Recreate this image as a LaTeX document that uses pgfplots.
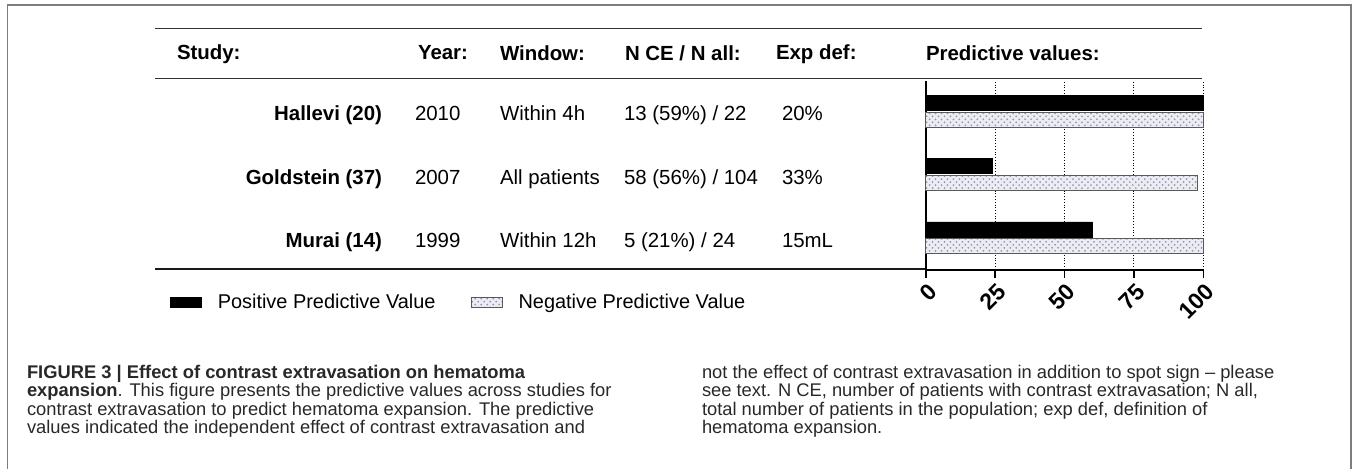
\documentclass[border=0pt]{standalone}
\usepackage{fontspec}
\setmainfont{Liberation Sans}
\usepackage{pgfplots}
\usepackage{pgfplotstable}
\pgfplotsset{compat=1.18}
\usetikzlibrary{patterns}

\definecolor{npvfill}{RGB}{236,236,247}
\definecolor{framegray}{RGB}{125,125,125}
\definecolor{capcol}{RGB}{40,40,40}

\pgfplotstableread{
y ppv npv
3 100 100
2 24 98
1 60 100
}\pvtable

\newcommand{\cf}{\fontsize{10.25}{12}\selectfont}
\newcommand{\capf}{\fontsize{9.2}{11}\selectfont}
\newcommand{\tf}{\fontsize{11.5}{13}\selectfont\bfseries}

\begin{document}
\begin{tikzpicture}
\begin{scope}[x=0.5bp,y=-0.5bp,
  t/.style={inner sep=0pt,outer sep=0pt,font=\cf},
  c/.style={inner sep=0pt,outer sep=0pt,font=\capf,text=capcol,anchor=base west}]
\useasboundingbox (0,0) rectangle (1356,469);
\draw[framegray,line width=0.65bp] (7.5,480) -- (7.5,5) -- (1351,5) -- (1351,480);

% table rules
\draw[black!80,line width=0.65bp] (155,28.3) -- (1201.7,28.3);
\draw[black!80,line width=0.65bp] (155,78.3) -- (1201.7,78.3);
\draw[black!90,line width=1bp] (155,269.5) -- (926,269.5);

% header
\node[t,anchor=base west] at (177,59.5) {\bfseries Study:};
\node[t,anchor=base west] at (418,59.5) {\bfseries Year:};
\node[t,anchor=base west] at (500,61) {\bfseries Window:};
\node[t,anchor=base west] at (625,61) {\bfseries N CE / N all:};
\node[t,anchor=base west] at (776,59.5) {\bfseries Exp def:};
\node[t,anchor=base west] at (926,60.5) {\bfseries Predictive values:};

% rows
\node[t,anchor=base east] at (382,121) {\bfseries Hallevi (20)};
\node[t,anchor=base west] at (415,121) {2010};
\node[t,anchor=base west] at (500,121) {Within 4h};
\node[t,anchor=base west] at (624,121) {13 (59\%) / 22};
\node[t,anchor=base west] at (782,121) {20\%};

\node[t,anchor=base east] at (382,184.4) {\bfseries Goldstein (37)};
\node[t,anchor=base west] at (415,184.4) {2007};
\node[t,anchor=base west] at (500,184.4) {All patients};
\node[t,anchor=base west] at (624,184.4) {58 (56\%) / 104};
\node[t,anchor=base west] at (782,184.4) {33\%};

\node[t,anchor=base east] at (382,247.8) {\bfseries Murai (14)};
\node[t,anchor=base west] at (415,247.8) {1999};
\node[t,anchor=base west] at (500,247.8) {Within 12h};
\node[t,anchor=base west] at (624,247.8) {5 (21\%) / 24};
\node[t,anchor=base west] at (782,247.8) {15mL};

% caption
\node[c] at (27,378.5) {\bfseries FIGURE 3 | Effect of contrast extravasation on hematoma};
\node[c] at (27,396.8) {\textbf{expansion}. This figure presents the predictive values across studies for};
\node[c] at (27,415.1) {contrast extravasation to predict hematoma expansion. The predictive};
\node[c] at (27,433.4) {values indicated the independent effect of contrast extravasation and};
\node[c] at (702,378.5) {not the effect of contrast extravasation in addition to spot sign -- please};
\node[c] at (702,396.8) {see text. N CE, number of patients with contrast extravasation; N all,};
\node[c] at (702,415.1) {total number of patients in the population; exp def, definition of};
\node[c] at (702,433.4) {hematoma expansion.};
\end{scope}

\begin{axis}[
  at={(462.85bp,-134.75bp)}, anchor=south west,
  scale only axis, width=138.8bp, height=94bp,
  xbar, bar width=7.5bp,
  xmin=0, xmax=100, ymin=0.5, ymax=3.47,
  enlargelimits=false, clip=false,
  axis x line*=bottom, axis y line*=left,
  axis line style={line width=1bp, black},
  xtick={0,25,50,75,100}, ytick=\empty,
  xticklabels={\tf 0,\tf 25,\tf 50,\tf 75,\tf 100},
  tick align=outside, major tick length=4bp,
  xtick style={line width=0.8bp, black},
  xmajorgrids, major grid style={densely dotted, black, line width=0.5bp},
  xticklabel style={font=\tf, rotate=45, anchor=east, inner sep=1bp, yshift=-6bp, xshift=0bp},
  legend columns=2,
  legend style={at={(axis description cs:-2.7223,-0.1755)}, anchor=west,
    draw=none, fill=none, inner sep=0pt, outer sep=0pt,
    font=\fontsize{10}{12}\selectfont,
    /tikz/every odd column/.append style={column sep=6bp},
    /tikz/every even column/.append style={column sep=15.5bp}},
  legend cell align=left,
  legend image code/.code={\draw[#1] (0bp,-2.5bp) rectangle (15.5bp,2.5bp);},
]
\addplot[fill=black, draw=black, bar shift=4.2bp] table[x=ppv,y=y]{\pvtable};
\addlegendentry{Positive Predictive Value}
\addplot[fill=npvfill, draw=black!65, line width=0.5bp, bar shift=-4.2bp,
  postaction={pattern=crosshatch dots, pattern color=black!40}] table[x=npv,y=y]{\pvtable};
\addlegendentry{Negative Predictive Value}
\end{axis}
\end{tikzpicture}
\end{document}
